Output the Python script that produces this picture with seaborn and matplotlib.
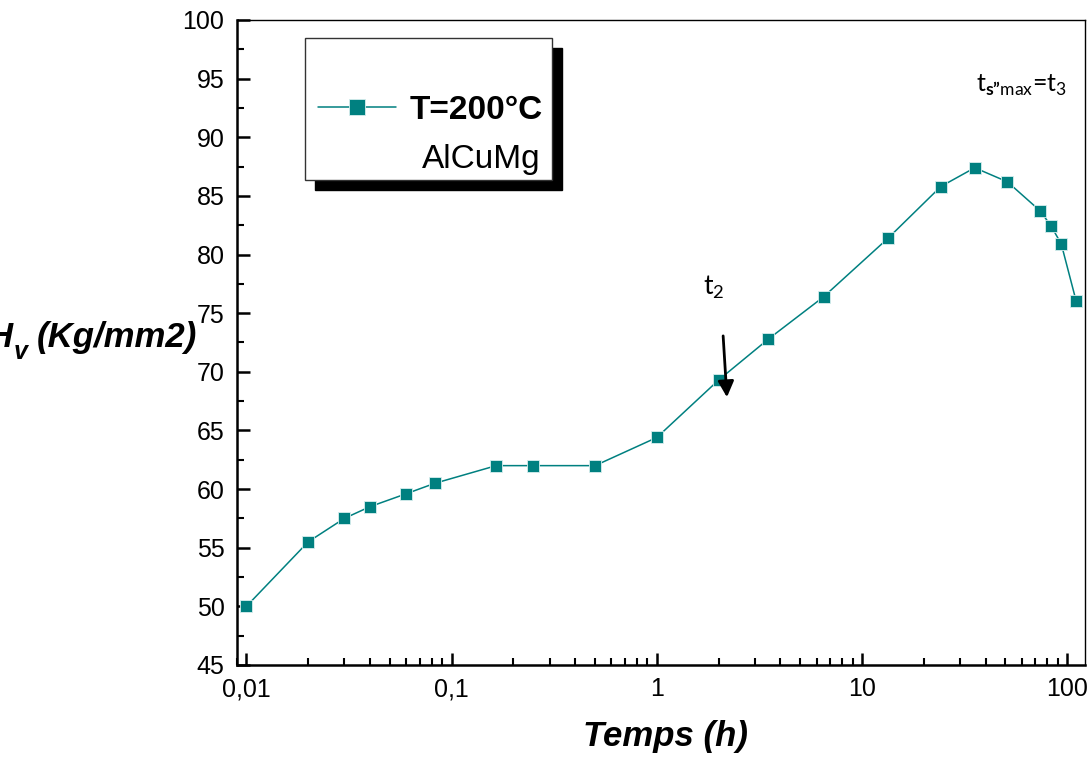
import matplotlib
matplotlib.use('Agg')
import matplotlib.pyplot as plt
import seaborn as sns
import pandas as pd
from matplotlib.patches import Rectangle

# hardness vs ageing time at 200 C
hours = [0.01, 0.02, 0.03, 0.04, 0.06, 0.083, 0.165, 0.25, 0.5, 1.0, 2.0,
         3.5, 6.5, 13.4, 24.2, 35.4, 51.1, 74.0, 83.6, 93.5, 110.6]
hardness = [50.0, 55.5, 57.5, 58.5, 59.6, 60.5, 62.0, 62.0, 62.0, 64.4, 69.3,
            72.8, 76.4, 81.4, 85.8, 87.4, 86.2, 83.7, 82.4, 80.9, 76.0]
x_ticks = [0.01, 0.1, 1, 10, 100]
x_tick_labels = ["0,01", "0,1", "1", "10", "100"]
y_ticks = list(range(45, 101, 5))

df = pd.DataFrame({"Temps": hours, "Hv": hardness})

sns.set_style("ticks")
plt.rcParams['font.family'] = ['Liberation Sans', 'DejaVu Sans']
plt.rcParams['mathtext.fontset'] = 'custom'
plt.rcParams['mathtext.rm'] = 'Lato'
plt.rcParams['mathtext.bf'] = 'Lato:bold'
for key in ['text.color', 'axes.labelcolor', 'xtick.color', 'ytick.color',
            'axes.edgecolor']:
    plt.rcParams[key] = 'black'

teal = "#008080"

fig = plt.figure(figsize=(10.9, 7.61), dpi=100)
ax = fig.add_axes([237 / 1090, 96 / 761, 848 / 1090, 645 / 761])

sns.lineplot(data=df, x="Temps", y="Hv", ax=ax, color=teal, lw=1.1,
             marker="s", markersize=9, markerfacecolor=teal,
             markeredgecolor="#d8eeee", markeredgewidth=0.6,
             label="T=200°C")

ax.set_xscale("log")
ax.set_xlim(0.009, 122)
ax.set_ylim(45, 100)
ax.set_xticks(x_ticks, labels=x_tick_labels)
ax.set_yticks(y_ticks)
ax.set_yticks([v + 2.5 for v in y_ticks[:-1]], minor=True)
ax.tick_params(axis="both", which="major", direction="in", length=9, width=1.8,
               labelsize=18, pad=9)
ax.tick_params(axis="both", which="minor", direction="in", length=5, width=1.5)
ax.tick_params(axis="y", which="both", right=False)
ax.tick_params(axis="x", which="both", top=False)
for s in ax.spines.values():
    s.set_linewidth(1.8)
ax.spines["top"].set_linewidth(1.0)
ax.spines["right"].set_linewidth(1.0)

ax.set_xlabel("Temps (h)", fontsize=25, fontweight="bold", style="italic",
              va="baseline")
ax.xaxis.set_label_coords(0.505, -0.1256)
ax.set_ylabel("")

# y label drawn in pieces (H with subscript v), partly cut at left edge
fig.text(13 / 1090, (761 - 347) / 761, "H", fontsize=25, fontweight="bold",
         style="italic", ha="right", va="baseline")
fig.text(14 / 1090, (761 - 359) / 761, "v", fontsize=18, fontweight="bold",
         style="italic", ha="left", va="baseline")
fig.text(37 / 1090, (761 - 347) / 761, "(Kg/mm2)", fontsize=25,
         fontweight="bold", style="italic", ha="left", va="baseline")

# legend box with black drop shadow
bx0, bx1 = (305 - 237) / 848, (552 - 237) / 848
by0, by1 = (665 - 180) / 645, (665 - 38) / 645
dx, dy = 10 / 848, 10 / 645
ax.add_patch(Rectangle((bx0 + dx, by0 - dy), bx1 - bx0, by1 - by0,
                       transform=ax.transAxes, facecolor="black",
                       edgecolor="black", zorder=3, clip_on=False))
ax.add_patch(Rectangle((bx0, by0), bx1 - bx0, by1 - by0,
                       transform=ax.transAxes, facecolor="white",
                       edgecolor="#333333", lw=1.0, zorder=4, clip_on=False))
leg = ax.legend(loc="center left", bbox_to_anchor=(0.0955, 0.86),
                frameon=False, borderpad=0, borderaxespad=0,
                handlelength=2.35, handletextpad=0.4,
                prop={"family": "Liberation Sans", "weight": "bold", "size": 24})
leg.set_zorder(6)
leg.legend_handles[0].set_markersize(11)
ax.text(0.3585, 0.783, "AlCuMg", transform=ax.transAxes, fontsize=24,
        ha="right", va="center", zorder=6)

# annotations
ax.annotate("", xy=(2.2, 67.6), xytext=(2.1, 73.3),
            arrowprops=dict(arrowstyle="-|>", color="black", lw=2,
                            mutation_scale=24))
ax.text(1.9, 77.2, r"$\mathrm{t_2}$", fontsize=19, ha="center", va="center")
ax.text(0.872, 0.899, "t$_{\\mathbf{s\u201d}\\mathrm{max}}$=t$_3$",
        transform=ax.transAxes, fontsize=18, ha="left", va="center",
        family="Lato")

fig.savefig("out.png", dpi=100)
